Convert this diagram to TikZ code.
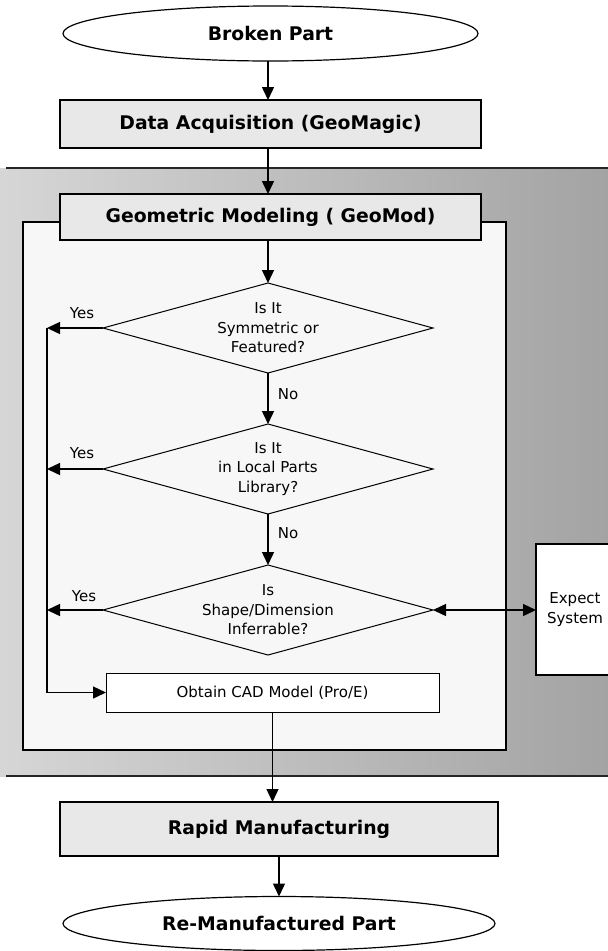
\documentclass[tikz,border=0pt]{standalone}
\usepackage{fontspec}
\setmainfont{DejaVu Sans}
\usetikzlibrary{shapes.geometric,arrows.meta,calc}
\begin{document}
\begin{tikzpicture}[x=1pt,y=-1pt,
  every node/.style={inner sep=0pt, outer sep=0pt},
  boldtxt/.style={font=\fontsize{18.8}{22}\selectfont\bfseries},
  regtxt/.style={font=\fontsize{15}{19.5}\selectfont},
  ell/.style={draw, ellipse, fill=white, line width=1.2pt, boldtxt},
  hbox/.style={draw, rectangle, fill=black!9, line width=1.2pt, boldtxt},
  plainbox/.style={draw, rectangle, fill=white, line width=1pt, regtxt, align=center},
  dia/.style={draw, diamond, shape aspect=3.67, line width=1pt, regtxt, align=center, minimum width=330pt, minimum height=90pt},
  tipA/.tip={Triangle[length=13pt,width=12pt]},
  arr/.style={line width=1.4pt, -tipA},
  darr/.style={line width=1.4pt, tipA-tipA},
  conn/.style={line width=1.4pt},
  lbl/.style={regtxt},
  band/.style={line width=1.6pt, black!85},
]
\useasboundingbox (0,0) rectangle (608,951);
\clip (0,0) rectangle (608,951);
\fill[white] (0,0) rectangle (608,951);
% shaded band of the GeoMod module
\shade[left color=black!16, right color=black!36] (0,168) rectangle (608,776);
\draw[band] (6,168) -- (608,168);
\draw[band] (6,776) -- (608,776);
% inner frame
\node[draw, line width=1.3pt, fill=black!3, minimum width=483pt, minimum height=528pt] (frame) at (264.5,486) {};

% nodes
\node[ell, minimum width=415pt, minimum height=55pt] (bp) at (270.5,33.5) {Broken Part};
\node[hbox, minimum width=421pt, minimum height=48pt] (da) at (270.5,124) {Data Acquisition (GeoMagic)};
\node[hbox, minimum width=421pt, minimum height=46pt] (gm) at (270.5,217) {Geometric Modeling ( GeoMod)};
\node[dia] (d1) at (268,328) {Is It\\Symmetric or\\Featured?};
\node[dia] (d2) at (268,469) {Is It\\in Local Parts\\Library?};
\node[dia] (d3) at (268,610) {Is\\Shape/Dimension\\Inferrable?};
\node[plainbox, minimum width=333pt, minimum height=39pt] (cad) at (272.5,692.5) {Obtain CAD Model (Pro/E)};
\node[hbox, minimum width=438pt, minimum height=54pt] (rm) at (279,829) {Rapid Manufacturing};
\node[ell, minimum width=432pt, minimum height=54pt] (rp) at (279,923.5) {Re-Manufactured Part};
\node[plainbox, line width=1.2pt, minimum width=78pt, minimum height=131pt] (es) at (575,609.5) {Expect\\System};

% labels
\node[lbl] (y1) at (82,313) {Yes};
\node[lbl] (y2) at (82,453) {Yes};
\node[lbl] (y3) at (84,596) {Yes};
\node[lbl] (n1) at (288,394) {No};
\node[lbl] (n2) at (288,533) {No};

\coordinate (bus) at (47,0);

% connectors
\draw[arr] (bp.south -| d1.north) -- (da.north -| d1.north);
\draw[arr] (da.south -| d1.north) -- (gm.north -| d1.north);
\draw[arr] (gm.south -| d1.north) -- (d1.north);
\draw[arr] (d1.south) -- (d2.north);
\draw[arr] (d2.south) -- (d3.north);
\draw[arr] (d1.west) -- (d1.west -| bus);
\draw[arr] (d2.west) -- (d2.west -| bus);
\draw[arr] (d3.west) -- (d3.west -| bus);
\draw[conn] (d1.west -| bus) -- (bus |- cad.west);
\draw[arr] (bus |- cad.west) -- (cad.west);
\draw[darr] (d3.east) -- (d3.east -| es.west);
\draw[arr] (cad.south) -- (cad.south |- rm.north);
\draw[arr] (rm.south) -- (rp.north);
\end{tikzpicture}
\end{document}
